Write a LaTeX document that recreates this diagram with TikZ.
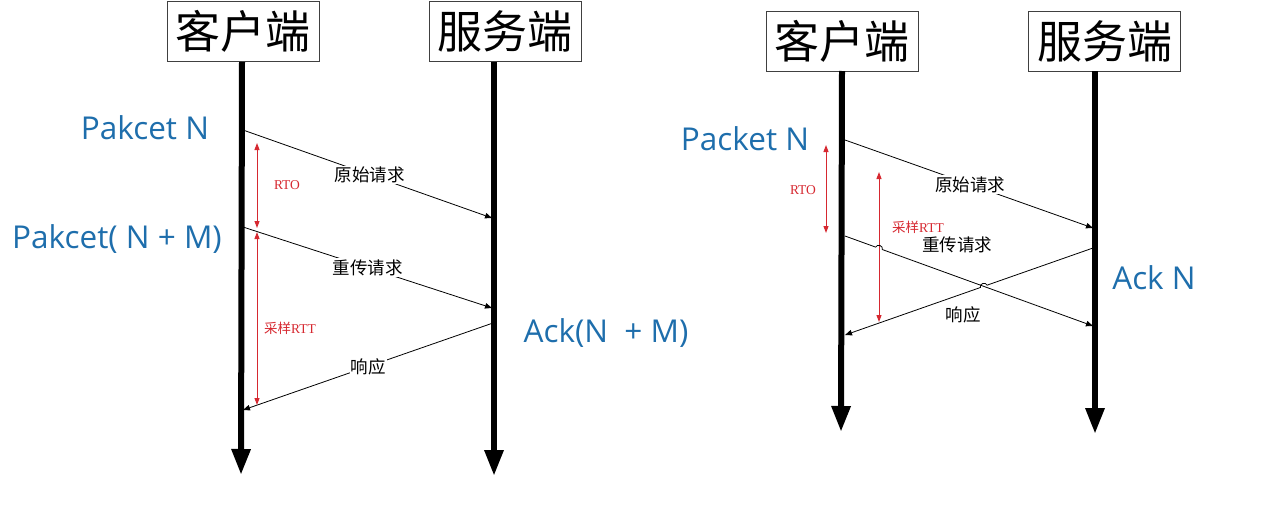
\documentclass[tikz,border=0pt]{standalone}
\usepackage{fontspec}
\setmainfont{Open Sans}
\newfontfamily\cjk{Noto Sans CJK SC}
\newfontfamily\serifred{Liberation Serif}
\usetikzlibrary{arrows.meta,calc,intersections}
\definecolor{pktblue}{RGB}{30,110,172}
\definecolor{rtored}{RGB}{214,40,48}
\tikzset{
  hdr/.style={draw=black!75, line width=1pt, fill=white, minimum width=152pt, minimum height=60pt, inner sep=0pt, font=\cjk\fontsize{45}{45}\selectfont},
  life/.style={line width=6pt, -{Triangle[width=18pt,length=26pt]}},
  msg/.style={line width=0.8pt, -{Triangle[width=5.5pt,length=7pt]}},
  lbl/.style={fill=white, inner sep=1pt, font=\cjk\fontsize{17.5}{17.5}\selectfont},
  freelbl/.style={inner sep=0pt, font=\cjk\fontsize{17.5}{17.5}\selectfont},
  pkt/.style={text=pktblue, inner sep=0pt, font=\fontsize{31.5}{31.5}\selectfont},
  span/.style={draw=rtored, line width=1pt, {Triangle[width=5pt,length=7pt]}-{Triangle[width=5pt,length=7pt]}},
  redlbl/.style={text=rtored, inner sep=0pt, font=\serifred\fontsize{13.5}{13.5}\selectfont},
}
\begin{document}
\begin{tikzpicture}[x=1pt,y=-1pt]
\path[use as bounding box] (0,0) rectangle (1280,506);

% ===== Left diagram =====
\node[hdr] (lc) at (243,31.5) {客户端};
\node[hdr] (ls) at (505,31.5) {服务端};
\coordinate (lcend) at (241,475);
\coordinate (lsend) at (494,476);
\draw[life] (242,62) -- (lcend);
\draw[life] (494,62) -- (lsend);

\coordinate (l1a) at (243,130);
\coordinate (l1b) at (492,218);
\coordinate (l2a) at (243,227);
\coordinate (l2b) at (492,308);
\coordinate (l3a) at (493,323);
\coordinate (l3b) at (243,410);

\draw[msg] (l1a) -- node[lbl, pos=0.51] {原始请求} (l1b);
\draw[msg] (l2a) -- node[lbl, pos=0.5] {重传请求} (l2b);
\draw[msg] (l3a) -- node[lbl, pos=0.5] {响应} (l3b);

\node[pkt] (lpn) at (145,128) {Pakcet N};
\node[pkt] (lpnm) at (117,239) {Pakcet( N + M)};
\node[pkt] (lack) at (606,333) {Ack(N\ \ + M)};

\coordinate (lr1a) at (257,143);
\coordinate (lr1b) at (257,228);
\coordinate (lr2a) at (257,232);
\coordinate (lr2b) at (257,405);
\draw[span] (lr1a) -- (lr1b);
\draw[span] (lr2a) -- (lr2b);
\node[redlbl] (lrto) at (287,185) {RTO};
\node[redlbl] (lrtt) at (290,328) {{\cjk 采样}RTT};

% ===== Right diagram =====
\node[hdr] (rc) at (842,41.5) {客户端};
\node[hdr] (rs) at (1104.5,41.5) {服务端};
\coordinate (rcend) at (841,432);
\coordinate (rsend) at (1095,434);
\draw[life] (842,71) -- (rcend);
\draw[life] (1095,71) -- (rsend);

\coordinate (r1a) at (845,140);
\coordinate (r1b) at (1093,228);
\coordinate (r2a) at (845,236);
\coordinate (r2b) at (1093,326);
\coordinate (r3a) at (1093,248);
\coordinate (r3b) at (845,335);

\coordinate (rr1a) at (826,145);
\coordinate (rr1b) at (826,233);
\coordinate (rr2a) at (879,172);
\coordinate (rr2b) at (879,322);

\draw[span] (rr1a) -- (rr1b);
\draw[span] (rr2a) -- (rr2b);

\path[name path=p2] (r2a) -- (r2b);
\path[name path=p3] (r3a) -- (r3b);
\path[name path=pr] (rr2a) -- (rr2b);
\path[name intersections={of=p2 and pr, by=X1}];
\path[name intersections={of=p2 and p3, by=X2}];

\draw[msg] (r1a) -- node[lbl, pos=0.506] {原始请求} (r1b);

% retransmission with a hop over the red span
\coordinate (h1a) at ($(X1)!3.5pt!(r2a)$);
\coordinate (h1b) at ($(X1)!3.5pt!(r2b)$);
\draw[msg] (r2a) -- (h1a) .. controls ($(h1a)!4pt!90:(X1)$) and ($(h1b)!4pt!-90:(X1)$) .. (h1b) -- (r2b);

% response with a hop over the retransmission
\coordinate (h2a) at ($(X2)!3.5pt!(r3a)$);
\coordinate (h2b) at ($(X2)!3.5pt!(r3b)$);
\draw[msg] (r3a) -- (h2a) .. controls ($(h2a)!4pt!-90:(X2)$) and ($(h2b)!4pt!90:(X2)$) .. (h2b) -- (r3b);

\node[freelbl] (rl2) at (957,245) {重传请求};
\node[freelbl] (rl3) at (963,315) {响应};

\node[pkt] (rpn) at (745,139) {Packet N};
\node[pkt] (rack) at (1154,278) {Ack N};

\node[redlbl] (rrto) at (803,190) {RTO};
\node[redlbl] (rrtt) at (918,227) {{\cjk 采样}RTT};
\end{tikzpicture}
\end{document}
